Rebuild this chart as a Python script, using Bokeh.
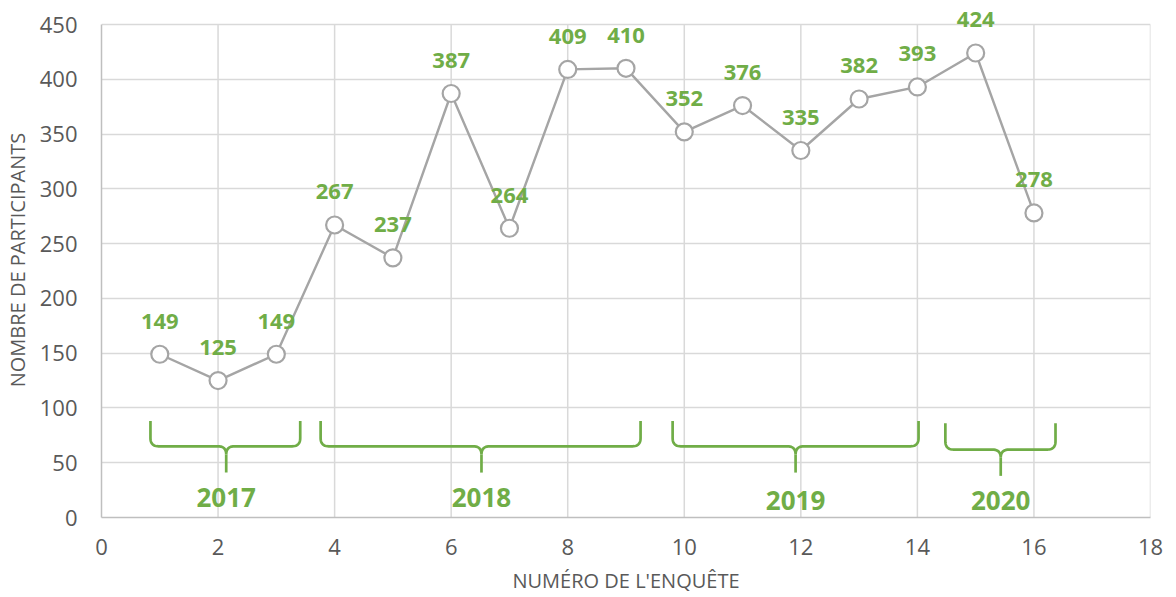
import numpy as np
from bokeh.plotting import figure
from bokeh.models import ColumnDataSource, FixedTicker, Range1d, LabelSet
from bokeh.core.properties import value
from bokeh.embed import file_html
from bokeh.resources import INLINE

# ---- data ----
survey_no = [1, 2, 3, 4, 5, 6, 7, 8, 9, 10, 11, 12, 13, 14, 15, 16]
participants = [149, 125, 149, 267, 237, 387, 264, 409, 410, 352, 376, 335, 382, 393, 424, 278]
x_ticks = [0, 2, 4, 6, 8, 10, 12, 14, 16, 18]
y_ticks = [0, 50, 100, 150, 200, 250, 300, 350, 400, 450]
y_max = 450

# year braces (span in survey-number units, heights in participant units)
brace_years = ["2017", "2018", "2019", "2020"]
brace_start = [0.84, 3.76, 9.80, 14.48]
brace_end = [3.41, 9.25, 14.02, 16.37]
brace_tip = [2.14, 6.52, 11.91, 15.43]
brace_top = [88, 88, 88, 86]
brace_mid = [65, 65, 65, 62]
brace_bottom = [41, 41, 41, 38]
year_label_y = [18, 18, 15.5, 15.5]

GREEN = "#70AD47"
GRAY_LINE = "#A5A5A5"
TEXT = "#595959"
GRID = "#D9D9D9"
FONT = "Open Sans"

# headroom above the 450 line so the top data label is not clipped
headroom = 22 * 450 / 493.0
p = figure(width=1176, height=597, output_backend="svg", toolbar_location=None,
           x_range=Range1d(0, 18), y_range=Range1d(0, y_max + headroom),
           min_border_left=101, min_border_right=26, min_border_top=2, min_border_bottom=80)
p.outline_line_color = None
p.background_fill_color = "white"
p.border_fill_color = "white"

for ax in (p.xaxis[0], p.yaxis[0]):
    ax.major_tick_line_color = None
    ax.minor_tick_line_color = None
    ax.axis_line_color = "#BFBFBF"
    ax.axis_line_width = 1.5
    ax.major_label_text_color = TEXT
    ax.major_label_text_font = FONT
    ax.major_label_text_font_size = "22px"
    ax.axis_label_text_color = TEXT
    ax.axis_label_text_font = FONT
    ax.axis_label_text_font_size = "20px"
    ax.axis_label_text_font_style = "normal"

p.yaxis.bounds = (0, y_max)
p.xaxis.ticker = FixedTicker(ticks=x_ticks)
p.yaxis.ticker = FixedTicker(ticks=y_ticks)
p.xaxis.axis_label = "NUMÉRO DE L'ENQUÊTE"
p.yaxis.axis_label = "NOMBRE DE PARTICIPANTS"
p.xaxis.major_label_standoff = 15
p.yaxis.major_label_standoff = 18
p.xaxis.axis_label_standoff = 9
p.yaxis.axis_label_standoff = 6

p.ygrid.ticker = FixedTicker(ticks=y_ticks)
p.ygrid.grid_line_color = GRID
p.ygrid.grid_line_width = 1.5
p.xgrid.grid_line_color = None
# vertical grid lines limited to the 0..450 band
vg = [t for t in x_ticks if t > 0]
p.segment(x0=vg, y0=[0] * len(vg), x1=vg, y1=[y_max] * len(vg),
          line_color=GRID, line_width=1.5, level="underlay")

# braces
def qbez(p0, c, p1, n=12):
    t = np.linspace(0, 1, n)
    xs = (1 - t) ** 2 * p0[0] + 2 * (1 - t) * t * c[0] + t ** 2 * p1[0]
    ys = (1 - t) ** 2 * p0[1] + 2 * (1 - t) * t * c[1] + t ** 2 * p1[1]
    return list(xs), list(ys)

rx = 0.14
ry = 7.5
bx, by = [], []
for x0, x1, xc, yt, ym, yb in zip(brace_start, brace_end, brace_tip, brace_top, brace_mid, brace_bottom):
    xs = [x0, x0]
    ys = [yt, ym + ry]
    cx, cy = qbez((x0, ym + ry), (x0, ym), (x0 + rx, ym))
    xs += cx; ys += cy
    xs += [xc - rx]; ys += [ym]
    cx, cy = qbez((xc - rx, ym), (xc, ym), (xc, ym - ry))
    xs += cx; ys += cy
    cx, cy = qbez((xc, ym - ry), (xc, ym), (xc + rx, ym))
    xs += cx; ys += cy
    xs += [x1 - rx]; ys += [ym]
    cx, cy = qbez((x1 - rx, ym), (x1, ym), (x1, ym + ry))
    xs += cx; ys += cy
    xs += [x1]; ys += [yt]
    bx.append(xs); by.append(ys)
    bx.append([xc, xc]); by.append([ym - ry, yb])

p.multi_line(bx, by, line_color=GREEN, line_width=2.7)

ysrc = ColumnDataSource(dict(x=brace_tip, y=year_label_y, t=brace_years))
p.text(x="x", y="y", text="t", source=ysrc, text_color=GREEN, text_font=value(FONT),
       text_font_style="bold", text_font_size="26px", text_align="center", text_baseline="middle")

# series
src = ColumnDataSource(dict(x=survey_no, y=participants, t=[str(v) for v in participants]))
p.line(x="x", y="y", source=src, line_color=GRAY_LINE, line_width=2.4)
p.scatter(x="x", y="y", source=src, size=17, fill_color="white", line_color=GRAY_LINE, line_width=2.2)
labels = LabelSet(x="x", y="y", text="t", source=src, text_color=GREEN, text_font=value(FONT),
                  text_font_style="bold", text_font_size="22px", text_align="center",
                  text_baseline="middle", y_offset=33)
p.add_layout(labels)

open("out.html", "w").write(file_html(p, INLINE))
